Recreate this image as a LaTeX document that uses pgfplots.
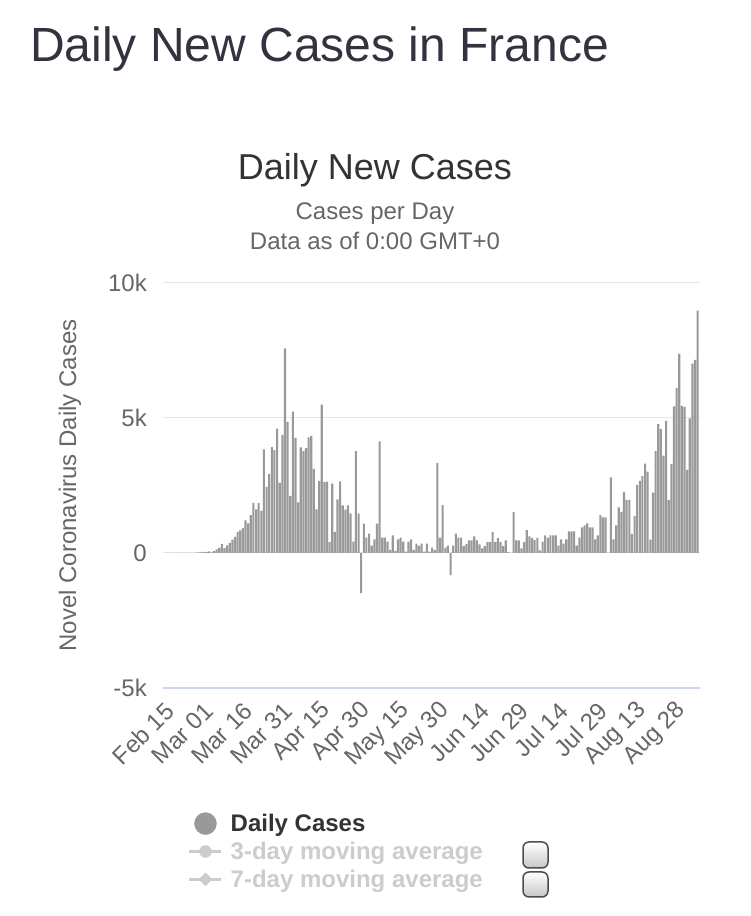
\documentclass[border=0pt]{standalone}
\usepackage{fontspec}
\setmainfont{Liberation Sans}
\usepackage{pgfplots}
\pgfplotsset{compat=1.18}
\usepackage{pgfplotstable}
\definecolor{titlec}{HTML}{33333F}
\definecolor{txt}{HTML}{333333}
\definecolor{sub}{HTML}{666666}
\definecolor{barc}{HTML}{999999}
\definecolor{gridc}{HTML}{E6E6E6}
\definecolor{axisc}{HTML}{CCD6EB}
\definecolor{legoff}{HTML}{CCCCCC}
\pgfplotstableread{
d v
0 0
1 0
2 0
3 0
4 0
5 0
6 0
7 0
8 0
9 0
10 2
11 4
12 20
13 19
14 43
15 30
16 61
17 21
18 73
19 138
20 190
21 336
22 177
23 286
24 372
25 497
26 595
27 785
28 838
29 924
30 1210
31 1097
32 1404
33 1861
34 1617
35 1847
36 1559
37 3838
38 2446
39 2931
40 3922
41 3809
42 4611
43 2599
44 4376
45 7578
46 4861
47 2116
48 5233
49 4267
50 1873
51 3912
52 3777
53 3881
54 4286
55 4342
56 3114
57 1613
58 2673
59 5497
60 2633
61 2641
62 405
63 2569
64 785
65 1990
66 2650
67 1760
68 1610
69 1760
70 1460
71 420
72 3770
73 1460
74 -1490
75 1090
76 570
77 720
78 270
79 500
80 1090
81 4130
82 570
83 570
84 420
85 120
86 650
87 80
88 500
89 570
90 420
91 50
92 420
93 500
94 120
95 350
96 270
97 350
98 50
99 350
100 50
101 200
102 120
103 3330
104 570
105 1770
106 200
107 270
108 -820
109 270
110 720
111 570
112 570
113 250
114 330
115 470
116 470
117 620
118 470
119 320
120 170
121 250
122 400
123 400
124 770
125 400
126 550
127 400
128 250
129 470
130 30
131 0
132 1520
133 470
134 470
135 170
136 400
137 850
138 620
139 560
140 480
141 560
142 100
143 420
144 650
145 570
146 650
147 650
148 650
149 270
150 500
151 350
152 500
153 800
154 800
155 800
156 270
157 570
158 950
159 1020
160 1100
161 950
162 950
163 500
164 650
165 1400
166 1320
167 1320
168 0
169 2800
170 500
171 1020
172 1690
173 1520
174 2260
175 1970
176 1970
177 710
178 1370
179 2520
180 2670
181 2850
182 3310
183 3015
184 493
185 2238
186 3776
187 4771
188 4586
189 3602
190 4897
191 1955
192 3304
193 5429
194 6111
195 7379
196 5453
197 5413
198 3082
199 4982
200 7017
201 7157
202 8975
}\casetable
\begin{document}
\begin{tikzpicture}[x=1pt,y=1pt]
\path[use as bounding box] (0,0) rectangle (750,916);
\node[anchor=base west, font=\fontsize{48}{56}\selectfont, text=titlec, inner sep=0pt] at (30,854) {Daily New Cases in France};
\node[anchor=base, font=\fontsize{36}{42}\selectfont, text=txt, inner sep=0pt] at (375,736) {Daily New Cases};
\node[anchor=base, font=\fontsize{24}{28}\selectfont, text=sub, inner sep=0pt] at (375,696) {Cases per Day};
\node[anchor=base, font=\fontsize{24}{28}\selectfont, text=sub, inner sep=0pt] at (375,666) {Data as of 0:00 GMT+0};
\begin{axis}[
  at={(163pt,228pt)}, anchor=south west,
  width=537pt, height=405pt, scale only axis,
  xmin=-1.4, xmax=202.9, ymin=-5000, ymax=10000,
  ytick={-5000,0,5000,10000}, yticklabels={-5k,0,5k,10k},
  scaled y ticks=false,
  xtick={0,15,...,195},
  xticklabels={Feb 15,Mar 01,Mar 16,Mar 31,Apr 15,Apr 30,May 15,May 30,Jun 14,Jun 29,Jul 14,Jul 29,Aug 13,Aug 28},
  ymajorgrids, grid style={gridc, line width=1pt},
  major tick length=0pt,
  axis x line*=bottom, axis y line*=left,
  x axis line style={axisc, line width=1.2pt, -},
  y axis line style={draw=none},
  tick label style={font=\fontsize{24}{28}\selectfont, text=sub},
  yticklabel style={anchor=east, inner sep=0pt, xshift=-16pt},
  xticklabel style={inner sep=0pt, anchor=east, xshift=3pt, yshift=-19pt, rotate=45},
  ylabel={Novel Coronavirus Daily Cases},
  ylabel style={at={(axis description cs:-0.1732,0.5)}, anchor=center, font=\fontsize{24}{28}\selectfont, text=sub},
  legend style={at={(axis description cs:0.0466,-0.306)}, anchor=north west, draw=none, fill=none, inner sep=0pt, row sep=5pt, column sep=6pt, font=\bfseries\fontsize{24}{28}\selectfont},
  legend cell align=left,
]
\addplot[ybar, bar width=2.1pt, fill=barc, draw=none, forget plot] table[x=d, y=v] {\casetable};
\addlegendimage{legend image code/.code={\fill[barc] (16pt,0pt) circle (11pt);}}
\addlegendentry{\textcolor{txt}{Daily Cases}}
\addlegendimage{legend image code/.code={\draw[legoff, line width=2.5pt] (0pt,0pt) -- (32pt,0pt); \fill[legoff] (16pt,0pt) circle (6pt);}}
\addlegendentry{\textcolor{legoff}{3-day moving average}}
\addlegendimage{legend image code/.code={\draw[legoff, line width=2.5pt] (0pt,0pt) -- (32pt,0pt); \fill[legoff] (16pt,6.5pt) -- (22.5pt,0pt) -- (16pt,-6.5pt) -- (9.5pt,0pt) -- cycle;}}
\addlegendentry{\textcolor{legoff}{7-day moving average}}
\end{axis}
\path[draw=black!70, line width=1.5pt, rounded corners=6pt, top color=white, bottom color=black!22] (523,48) rectangle (548,74);
\path[draw=black!70, line width=1.5pt, rounded corners=6pt, top color=white, bottom color=black!22] (523,19) rectangle (548,44);
\end{tikzpicture}
\end{document}
